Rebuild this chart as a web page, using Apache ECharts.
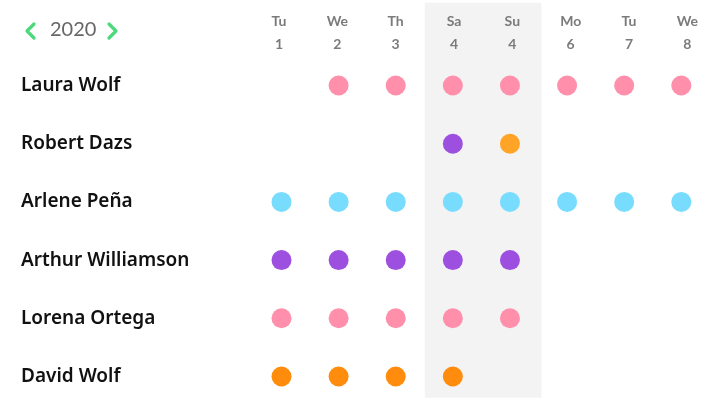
<!DOCTYPE html>
<html>
<head>
<meta charset="utf-8">
<script src="https://cdn.jsdelivr.net/npm/echarts@6/dist/echarts.min.js"></script>
<style>
html,body{margin:0;padding:0;background:#fff;}
#chart{width:701px;height:401px;}
</style>
</head>
<body>
<div id="chart"></div>
<script>
// ---- data ----
const year = '2020';
const dayNames = ['Tu', 'We', 'Th', 'Sa', 'Su', 'Mo', 'Tu', 'We'];
const dayNumbers = ['1', '2', '3', '4', '4', '6', '7', '8'];
const weekendDays = [3, 4];
const people = ['Laura Wolf', 'Robert Dazs', 'Arlene Peña', 'Arthur Williamson', 'Lorena Ortega', 'David Wolf'];
// colour key per day (null = no dot)
const lauraWolf        = [null, 'pink', 'pink', 'pink', 'pink', 'pink', 'pink', 'pink'];
const robertDazs       = [null, null, null, 'purple', 'amber', null, null, null];
const arlenePena       = ['cyan', 'cyan', 'cyan', 'cyan', 'cyan', 'cyan', 'cyan', 'cyan'];
const arthurWilliamson = ['purple', 'purple', 'purple', 'purple', 'purple', null, null, null];
const lorenaOrtega     = ['pink', 'pink', 'pink', 'pink', 'pink', null, null, null];
const davidWolf        = ['orange', 'orange', 'orange', 'orange', null, null, null, null];
const rows = [lauraWolf, robertDazs, arlenePena, arthurWilliamson, lorenaOrtega, davidWolf];

const palette = {
  pink: '#ff8fab',
  purple: '#9d4fe0',
  amber: '#ffa426',
  cyan: '#78dcff',
  orange: '#ff8c0c'
};

// ---- build ----
const dayLabels = dayNames.map((d, i) => d + '\n' + dayNumbers[i]);
const dots = [];
rows.forEach((row, r) => {
  row.forEach((c, d) => {
    if (c) dots.push({ value: [d, r], itemStyle: { color: palette[c], opacity: 1 } });
  });
});

const FONT = 'Lato, "Noto Sans", sans-serif';
const NAME_FONT = '"Noto Sans", Lato, sans-serif';
const chart = echarts.init(document.getElementById('chart'), null, { renderer: 'canvas' });

const option = {
  backgroundColor: '#ffffff',
  animation: false,
  grid: [
    { left: 281.5, top: 85.5, width: 399.8, height: 291 },
    { left: 279, top: 2.7, width: 410.9, height: 395 }
  ],
  xAxis: [
    {
      gridIndex: 0, type: 'category', data: dayLabels, boundaryGap: false,
      axisLine: { show: false }, axisTick: { show: false },
      axisLabel: { show: false }, splitLine: { show: false }
    },
    {
      gridIndex: 1, type: 'category', data: dayLabels, position: 'top', boundaryGap: false, z: 10,
      axisLine: { show: false }, axisTick: { show: false }, splitLine: { show: false },
      axisLabel: {
        inside: true, margin: 7, color: '#7b7b7b', fontSize: 14, fontWeight: 'bold',
        fontFamily: FONT, lineHeight: 23, interval: 0
      }
    },
    {
      gridIndex: 1, type: 'value', min: 0, max: dayNames.length - 1, show: false
    }
  ],
  yAxis: [
    {
      gridIndex: 0, type: 'category', data: people, inverse: true, boundaryGap: false,
      axisLine: { show: false }, axisTick: { show: false }, splitLine: { show: false },
      axisLabel: {
        align: 'left', margin: 260.5, color: '#111111', fontSize: 19,
        fontWeight: 600, fontFamily: NAME_FONT
      }
    },
    { gridIndex: 1, type: 'value', min: 0, max: 1, show: false }
  ],
  series: [
    {
      type: 'line', xAxisIndex: 2, yAxisIndex: 1, data: [], silent: true, z: 0,
      markArea: {
        silent: true,
        itemStyle: { color: '#f3f3f3' },
        data: [[
          { xAxis: Math.min.apply(null, weekendDays) - 0.5 },
          { xAxis: Math.max.apply(null, weekendDays) + 0.5 }
        ]]
      }
    },
    {
      type: 'scatter', xAxisIndex: 0, yAxisIndex: 0, z: 5,
      symbol: 'circle', symbolSize: 20, data: dots,
      itemStyle: { opacity: 1 }
    }
  ],
  graphic: [
    {
      type: 'polyline', shape: { points: [[34, 24], [27, 31], [34, 38]] },
      style: { stroke: '#4cd97b', lineWidth: 3.2, fill: null, lineCap: 'round', lineJoin: 'round' }
    },
    {
      type: 'text', left: 50, top: 20,
      style: { text: year, fill: '#666666', font: '20px ' + FONT }
    },
    {
      type: 'polyline', shape: { points: [[109, 24], [116, 31], [109, 38]] },
      style: { stroke: '#4cd97b', lineWidth: 3.2, fill: null, lineCap: 'round', lineJoin: 'round' }
    }
  ]
};
chart.setOption(option);
</script>
</body>
</html>
